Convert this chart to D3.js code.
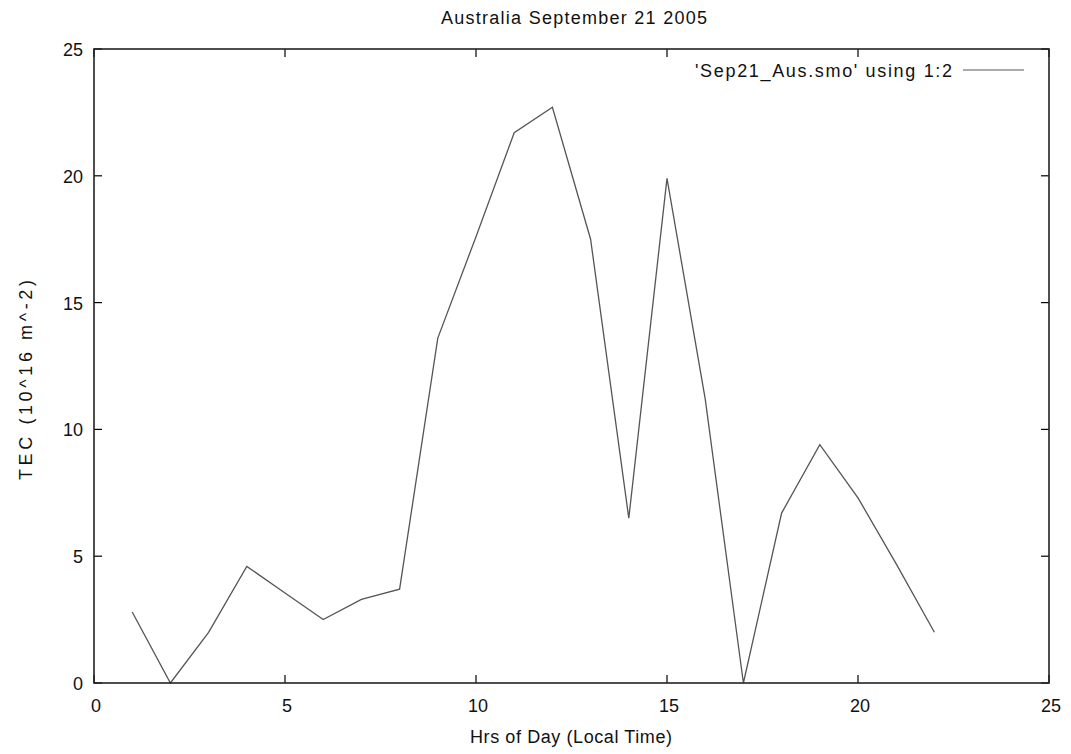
<!DOCTYPE html>
<html>
<head>
<meta charset="utf-8">
<script src="https://cdn.jsdelivr.net/npm/d3@7"></script>
<style>
  body { margin: 0; background: #fff; }
  text { font-family: "Liberation Sans", Arial, sans-serif; font-size: 18px; fill: #111; }
</style>
</head>
<body>
<svg id="chart" width="1071" height="754"></svg>
<script>
// hour of day and TEC readings
const hours = [1, 2, 3, 4, 5, 6, 7, 8, 9, 10, 11, 12, 13, 14, 15, 16, 17, 18, 19, 20, 21, 22];
const tec = [2.8, 0, 2.0, 4.6, 3.55, 2.5, 3.3, 3.7, 13.6, 17.6, 21.7, 22.7, 17.5, 6.5, 19.9, 11.2, 0, 6.7, 9.4, 7.3, 4.7, 2.0];
const xTicks = [0, 5, 10, 15, 20, 25];
const yTicks = [0, 5, 10, 15, 20, 25];

const svg = d3.select('#chart');
const plotLeft = 94, plotRight = 1049, plotTop = 49, plotBottom = 683;

const x = d3.scaleLinear().domain([0, 25]).range([plotLeft, plotRight]);
const y = d3.scaleLinear().domain([0, 25]).range([plotBottom, plotTop]);

// ticks, mirrored on all four sides, pointing inward
const tickLen = 8;
const ticks = svg.append('g').attr('stroke', '#000').attr('stroke-width', 1.2);
xTicks.forEach(t => {
    ticks.append('line').attr('x1', x(t)).attr('x2', x(t)).attr('y1', plotBottom).attr('y2', plotBottom - tickLen);
    ticks.append('line').attr('x1', x(t)).attr('x2', x(t)).attr('y1', plotTop).attr('y2', plotTop + tickLen);
});
yTicks.forEach(t => {
    ticks.append('line').attr('x1', plotLeft).attr('x2', plotLeft + tickLen).attr('y1', y(t)).attr('y2', y(t));
    ticks.append('line').attr('x1', plotRight).attr('x2', plotRight - tickLen).attr('y1', y(t)).attr('y2', y(t));
});

svg.append('g').selectAll('text')
    .data(xTicks)
    .enter()
    .append('text')
    .attr('x', d => x(d) + 2)
    .attr('y', plotBottom + 29)
    .attr('text-anchor', 'middle')
    .text(d => d);

svg.append('g').selectAll('text')
    .data(yTicks)
    .enter()
    .append('text')
    .attr('x', plotLeft - 11)
    .attr('y', d => y(d) + 7)
    .attr('text-anchor', 'end')
    .text(d => d);

// data line
const line = d3.line().x((d, i) => x(hours[i])).y(d => y(d));
svg.append('path')
    .attr('d', line(tec))
    .attr('fill', 'none')
    .attr('stroke', '#555')
    .attr('stroke-width', 1.3);

// frame
svg.append('rect')
    .attr('x', plotLeft).attr('y', plotTop)
    .attr('width', plotRight - plotLeft).attr('height', plotBottom - plotTop)
    .attr('fill', 'none')
    .attr('stroke', '#222')
    .attr('stroke-width', 1.6);

// legend
svg.append('text')
    .attr('x', 695).attr('y', 77)
    .attr('textLength', 257)
    .attr('lengthAdjust', 'spacing')
    .text("'Sep21_Aus.smo' using 1:2");
svg.append('line')
    .attr('x1', 963).attr('x2', 1024)
    .attr('y1', 70).attr('y2', 70)
    .attr('stroke', '#aaa')
    .attr('stroke-width', 2.2);

// titles
svg.append('text')
    .attr('x', 441).attr('y', 24)
    .attr('textLength', 266)
    .attr('lengthAdjust', 'spacing')
    .text('Australia September 21 2005');
svg.append('text')
    .attr('x', 470).attr('y', 743)
    .attr('textLength', 202)
    .attr('lengthAdjust', 'spacing')
    .text('Hrs of Day (Local Time)');
svg.append('text')
    .attr('transform', 'translate(32,480) rotate(-90)')
    .attr('textLength', 200)
    .attr('lengthAdjust', 'spacing')
    .text('TEC (10^16 m^-2)');
</script>
</body>
</html>
